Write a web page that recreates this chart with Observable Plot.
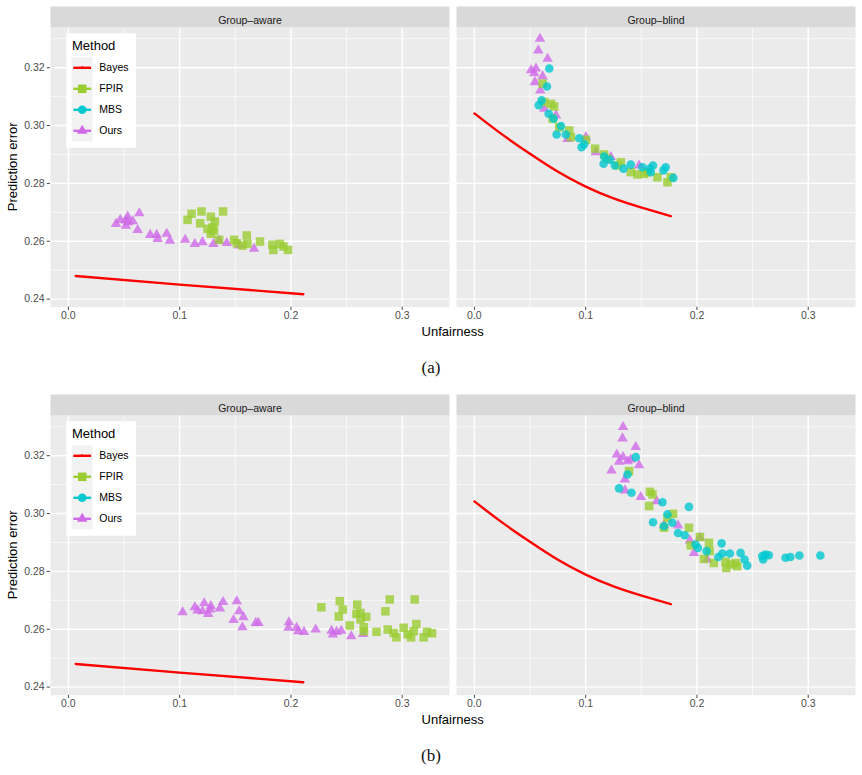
<!DOCTYPE html>
<html>
<head>
<meta charset="utf-8">
<script src="https://cdn.jsdelivr.net/npm/d3@7"></script>
<script src="https://cdn.jsdelivr.net/npm/@observablehq/plot@0.6"></script>
<style>
  body { margin: 0; background: white; }
  #root { position: relative; width: 862px; height: 775px; }
  .row { position: absolute; left: 0; }
  .cap { position: absolute; left: 0; width: 862px; text-align: center;
         font-family: "Liberation Serif", "DejaVu Serif", serif; font-size: 17px; color: #111; }
</style>
</head>
<body>
<div id="root"></div>
<script>
// ---------- data ----------
const groups = ["Group-aware", "Group-blind"];
const methods = ["Bayes", "FPIR", "MBS", "Ours"];
const methodColors = ["#ff0000", "#9acd32", "#00c8cf", "#d06ae8"];
const methodSymbols = ["circle", "square", "circle", "triangle"];
const xTicks = [0, 0.1, 0.2, 0.3];
const xMinor = [0.05, 0.15, 0.25];
const yTicks = [0.24, 0.26, 0.28, 0.30, 0.32];
const yMinor = [0.25, 0.27, 0.29, 0.31, 0.33];
const captions = ["(a)", "(b)"];

// Bayes curves (same in both figures)
const bayesAware = [[0.0066,0.2480],[0.1000,0.2450],[0.2111,0.2417]];
const bayesBlind = [[0.0000,0.3042],[0.0239,0.2972],[0.0493,0.2904],[0.0747,0.2841],[0.1000,0.2789],[0.1257,0.2747],[0.1496,0.2717],[0.1765,0.2687]];

// (a) Group-aware
const aAwareOurs = [[0.0428,0.2660],[0.0466,0.2674],[0.0517,0.2672],[0.0533,0.2685],[0.0538,0.2666],[0.0578,0.2669],[0.0637,0.2697],[0.0622,0.2639],[0.0517,0.2654],[0.0735,0.2622],[0.0793,0.2622],[0.0802,0.2608],[0.0883,0.2626],[0.0912,0.2602],[0.1049,0.2605],[0.1136,0.2591],[0.1205,0.2597],[0.1304,0.2591],[0.1354,0.2602],[0.1423,0.2594],[0.1534,0.2585],[0.1668,0.2574]];
const aAwareFPIR = [[0.1071,0.2674],[0.1107,0.2695],[0.1196,0.2703],[0.1184,0.2662],[0.1280,0.2685],[0.1316,0.2668],[0.1390,0.2703],[0.1250,0.2643],[0.1295,0.2648],[0.1280,0.2626],[0.1309,0.2637],[0.1354,0.2605],[0.1489,0.2605],[0.1513,0.2593],[0.1603,0.2620],[0.1609,0.2591],[0.1564,0.2585],[0.1722,0.2599],[0.1833,0.2588],[0.1842,0.2570],[0.1901,0.2591],[0.1932,0.2582],[0.1973,0.2570]];
// (a) Group-blind
const aBlindOurs = [[0.0589,0.3300],[0.0574,0.3260],[0.0658,0.3231],[0.0509,0.3191],[0.0553,0.3197],[0.0538,0.3181],[0.0613,0.3170],[0.0544,0.3150],[0.0592,0.3121],[0.0628,0.3058],[0.0733,0.3035],[0.0838,0.2954],[0.1002,0.2960],[0.1091,0.2908],[0.1226,0.2891],[0.1480,0.2862]];
const aBlindFPIR = [[0.0613,0.3145],[0.0628,0.3081],[0.0688,0.3075],[0.0717,0.3066],[0.0703,0.3024],[0.0762,0.2994],[0.0852,0.2983],[0.0867,0.2960],[0.1002,0.2951],[0.1085,0.2920],[0.1166,0.2900],[0.1196,0.2885],[0.1286,0.2862],[0.1316,0.2873],[0.1405,0.2839],[0.1465,0.2831],[0.1525,0.2833],[0.1555,0.2839],[0.1645,0.2821],[0.1735,0.2804],[0.1764,0.2821]];
const aBlindMBS = [[0.0673,0.3197],[0.0652,0.3135],[0.0604,0.3087],[0.0578,0.3070],[0.0667,0.3041],[0.0712,0.3024],[0.0778,0.2998],[0.0739,0.2969],[0.0822,0.2969],[0.0942,0.2956],[0.0987,0.2935],[0.0963,0.2925],[0.1166,0.2893],[0.1161,0.2868],[0.1217,0.2882],[0.1262,0.2862],[0.1340,0.2851],[0.1405,0.2865],[0.1510,0.2856],[0.1578,0.2851],[0.1605,0.2862],[0.1585,0.2839],[0.1719,0.2856],[0.1699,0.2845],[0.1788,0.2819]];

// (b) Group-aware
const bAwareOurs = [[0.1026,0.2659],[0.1136,0.2676],[0.1161,0.2665],[0.1220,0.2690],[0.1205,0.2662],[0.1256,0.2653],[0.1280,0.2680],[0.1274,0.2668],[0.1361,0.2672],[0.1390,0.2694],[0.1484,0.2632],[0.1513,0.2697],[0.1534,0.2662],[0.1573,0.2642],[0.1564,0.2607],[0.1684,0.2622],[0.1708,0.2622],[0.1982,0.2624],[0.1977,0.2605],[0.2051,0.2605],[0.2066,0.2593],[0.2117,0.2591],[0.2222,0.2599],[0.2365,0.2595],[0.2377,0.2582],[0.2410,0.2591],[0.2452,0.2595],[0.2542,0.2576],[0.2649,0.2584]];
const bAwareFPIR = [[0.2273,0.2676],[0.2439,0.2697],[0.2466,0.2668],[0.2430,0.2644],[0.2529,0.2613],[0.2596,0.2685],[0.2589,0.2653],[0.2625,0.2634],[0.2625,0.2656],[0.2676,0.2643],[0.2655,0.2607],[0.2655,0.2593],[0.2769,0.2591],[0.2849,0.2662],[0.2888,0.2703],[0.2870,0.2599],[0.2924,0.2587],[0.2948,0.2572],[0.3013,0.2605],[0.3049,0.2582],[0.3080,0.2572],[0.3112,0.2703],[0.3127,0.2618],[0.3103,0.2593],[0.3193,0.2572],[0.3223,0.2591],[0.3268,0.2586]];
// (b) Group-blind
const bBlindOurs = [[0.1336,0.3299],[0.1331,0.3260],[0.1450,0.3230],[0.1280,0.3204],[0.1336,0.3195],[0.1376,0.3181],[0.1300,0.3179],[0.1405,0.3187],[0.1480,0.3167],[0.1232,0.3149],[0.1352,0.3118],[0.1354,0.3080],[0.1495,0.3057],[0.1639,0.3043],[0.1704,0.2960],[0.1830,0.2959],[0.1937,0.2907],[0.1973,0.2864],[0.2027,0.2916],[0.2093,0.2841]];
const bBlindFPIR = [[0.1390,0.3147],[0.1578,0.3075],[0.1600,0.3066],[0.1570,0.3026],[0.1704,0.2951],[0.1735,0.2985],[0.1785,0.2999],[0.1928,0.2951],[0.2027,0.2919],[0.2108,0.2899],[0.1944,0.2890],[0.2063,0.2843],[0.2114,0.2870],[0.2152,0.2829],[0.2257,0.2833],[0.2264,0.2812],[0.2302,0.2824],[0.2347,0.2829],[0.2362,0.2818]];
const bBlindMBS = [[0.1450,0.3195],[0.1376,0.3135],[0.1300,0.3087],[0.1412,0.3072],[0.1690,0.3039],[0.1928,0.3023],[0.1605,0.2970],[0.1735,0.2997],[0.1704,0.2956],[0.1779,0.2968],[0.1830,0.2933],[0.1890,0.2925],[0.1988,0.2893],[0.2009,0.2881],[0.2087,0.2870],[0.2222,0.2897],[0.2192,0.2850],[0.2228,0.2862],[0.2296,0.2862],[0.2392,0.2864],[0.2428,0.2841],[0.2452,0.2820],[0.2587,0.2853],[0.2595,0.2841],[0.2616,0.2858],[0.2646,0.2856],[0.2796,0.2847],[0.2840,0.2850],[0.2921,0.2855],[0.3109,0.2855]];

// ---------- build tables ----------
function table(spec) {
  const rows = [];
  for (const [group, method, pts] of spec)
    for (const [x, y] of pts) rows.push({group, method, x, y});
  return rows;
}
const rowA = table([
  ["Group-aware","Bayes",bayesAware],["Group-blind","Bayes",bayesBlind],
  ["Group-aware","Ours",aAwareOurs],["Group-aware","FPIR",aAwareFPIR],
  ["Group-blind","Ours",aBlindOurs],["Group-blind","FPIR",aBlindFPIR],["Group-blind","MBS",aBlindMBS]
]);
const rowB = table([
  ["Group-aware","Bayes",bayesAware],["Group-blind","Bayes",bayesBlind],
  ["Group-aware","Ours",bAwareOurs],["Group-aware","FPIR",bAwareFPIR],
  ["Group-blind","Ours",bBlindOurs],["Group-blind","FPIR",bBlindFPIR],["Group-blind","MBS",bBlindMBS]
]);

// ---------- layout ----------
const W = 862, H = 345, mL = 49.3, mR = 6, mT = 27, mB = 38.3;
const panelH = H - mT - mB;
const col = m => methodColors[methods.indexOf(m)];
const symR = {FPIR: 4.8, MBS: 4.3, Ours: 3.9};

function makeRow(data) {
  const svg = Plot.plot({
    width: W, height: H,
    marginLeft: mL, marginRight: mR, marginTop: mT, marginBottom: mB,
    style: {fontFamily: "'Liberation Sans', Arial, sans-serif", fontSize: "10.5px", color: "#4d4d4d", background: "transparent", overflow: "visible"},
    facet: {data, x: "group"},
    fx: {domain: groups, paddingInner: 0.0172, paddingOuter: 0, axis: null, label: null},
    x: {domain: [-0.0161, 0.3425], label: null},
    y: {domain: [0.2372, 0.3339], label: null},
    marks: [
      Plot.frame({fill: "#ebebeb"}),
      Plot.gridX({ticks: xMinor, stroke: "white", strokeOpacity: 1, strokeWidth: 0.7}),
      Plot.gridY({ticks: yMinor, stroke: "white", strokeOpacity: 1, strokeWidth: 0.7}),
      Plot.gridX({ticks: xTicks, stroke: "white", strokeOpacity: 1, strokeWidth: 1.4}),
      Plot.gridY({ticks: yTicks, stroke: "white", strokeOpacity: 1, strokeWidth: 1.4}),
      Plot.line(data, {filter: d => d.method === "Bayes", x: "x", y: "y", stroke: col("Bayes"), strokeWidth: 2.4, curve: "natural"}),
      ...["Ours", "FPIR", "MBS"].map(m =>
        Plot.dot(data, {filter: d => d.method === m, x: "x", y: "y",
          symbol: () => methodSymbols[methods.indexOf(m)], fill: col(m), fillOpacity: 0.8, r: symR[m], stroke: "none"})),
      Plot.frame({fill: "#d9d9d9", insetTop: -21, insetBottom: panelH}),
      Plot.text(data, Plot.selectFirst({text: d => d.group.replace("-", "\u2013"), frameAnchor: "top", dy: -10.5, fill: "#1a1a1a", fontSize: 10.5})),
      Plot.axisX({ticks: xTicks, tickFormat: d3.format(".1f"), tickSize: 3.3, tickPadding: 1.5, label: null, color: "#4d4d4d", fontSize: 10.5}),
      Plot.axisY({ticks: yTicks, tickFormat: d3.format(".2f"), tickSize: 3.3, tickPadding: 2.5, label: null, color: "#4d4d4d", fontSize: 10.5})
    ]
  });
  const s = d3.select(svg);
  // axis titles
  s.append("text").attr("x", (mL + W - mR) / 2).attr("y", 331).attr("dy", "0.35em")
    .attr("text-anchor", "middle").attr("fill", "black").style("font-size", "13px").text("Unfairness");
  s.append("text").attr("transform", `translate(12.5,${mT + panelH / 2}) rotate(-90)`).attr("dy", "0.35em")
    .attr("text-anchor", "middle").attr("fill", "black").style("font-size", "13px").text("Prediction error");
  // legend inset
  const g = s.append("g").attr("transform", "translate(66.3,33.3)").attr("text-anchor", "start");
  g.append("rect").attr("width", 69.7).attr("height", 114.4).attr("fill", "white");
  g.append("text").attr("x", 5.7).attr("y", 12.4).attr("dy", "0.35em").attr("fill", "black")
    .attr("text-anchor", "start").style("font-size", "13px").text("Method");
  const areas = {Bayes: 7, FPIR: Math.PI * 4.8 * 4.8, MBS: Math.PI * 4.3 * 4.3, Ours: Math.PI * 3.9 * 3.9};
  const d3sym = {circle: d3.symbolCircle, square: d3.symbolSquare, triangle: d3.symbolTriangle};
  methods.forEach((m, i) => {
    const top = 24 + 21 * i, cy = top + 10.5;
    g.append("rect").attr("x", 5.4).attr("y", top).attr("width", 21).attr("height", 21).attr("fill", "#f2f2f2");
    g.append("line").attr("x1", 7).attr("x2", 24.8).attr("y1", cy).attr("y2", cy)
      .attr("stroke", methodColors[i]).attr("stroke-width", 2.4);
    g.append("path").attr("d", d3.symbol(d3sym[methodSymbols[i]], areas[m])())
      .attr("transform", `translate(15.9,${cy})`).attr("fill", methodColors[i]);
    g.append("text").attr("x", 33).attr("y", cy).attr("dy", "0.35em").attr("fill", "black")
      .attr("text-anchor", "start").style("font-size", "10.5px").text(m);
  });
  return svg;
}

const root = document.getElementById("root");
const tops = [0, 388];
const capY = [358, 746];
[rowA, rowB].forEach((data, i) => {
  const div = document.createElement("div");
  div.className = "row";
  div.style.top = tops[i] + "px";
  div.appendChild(makeRow(data));
  root.appendChild(div);
  const cap = document.createElement("div");
  cap.className = "cap";
  cap.style.top = capY[i] + "px";
  cap.textContent = captions[i];
  root.appendChild(cap);
});
</script>
</body>
</html>
